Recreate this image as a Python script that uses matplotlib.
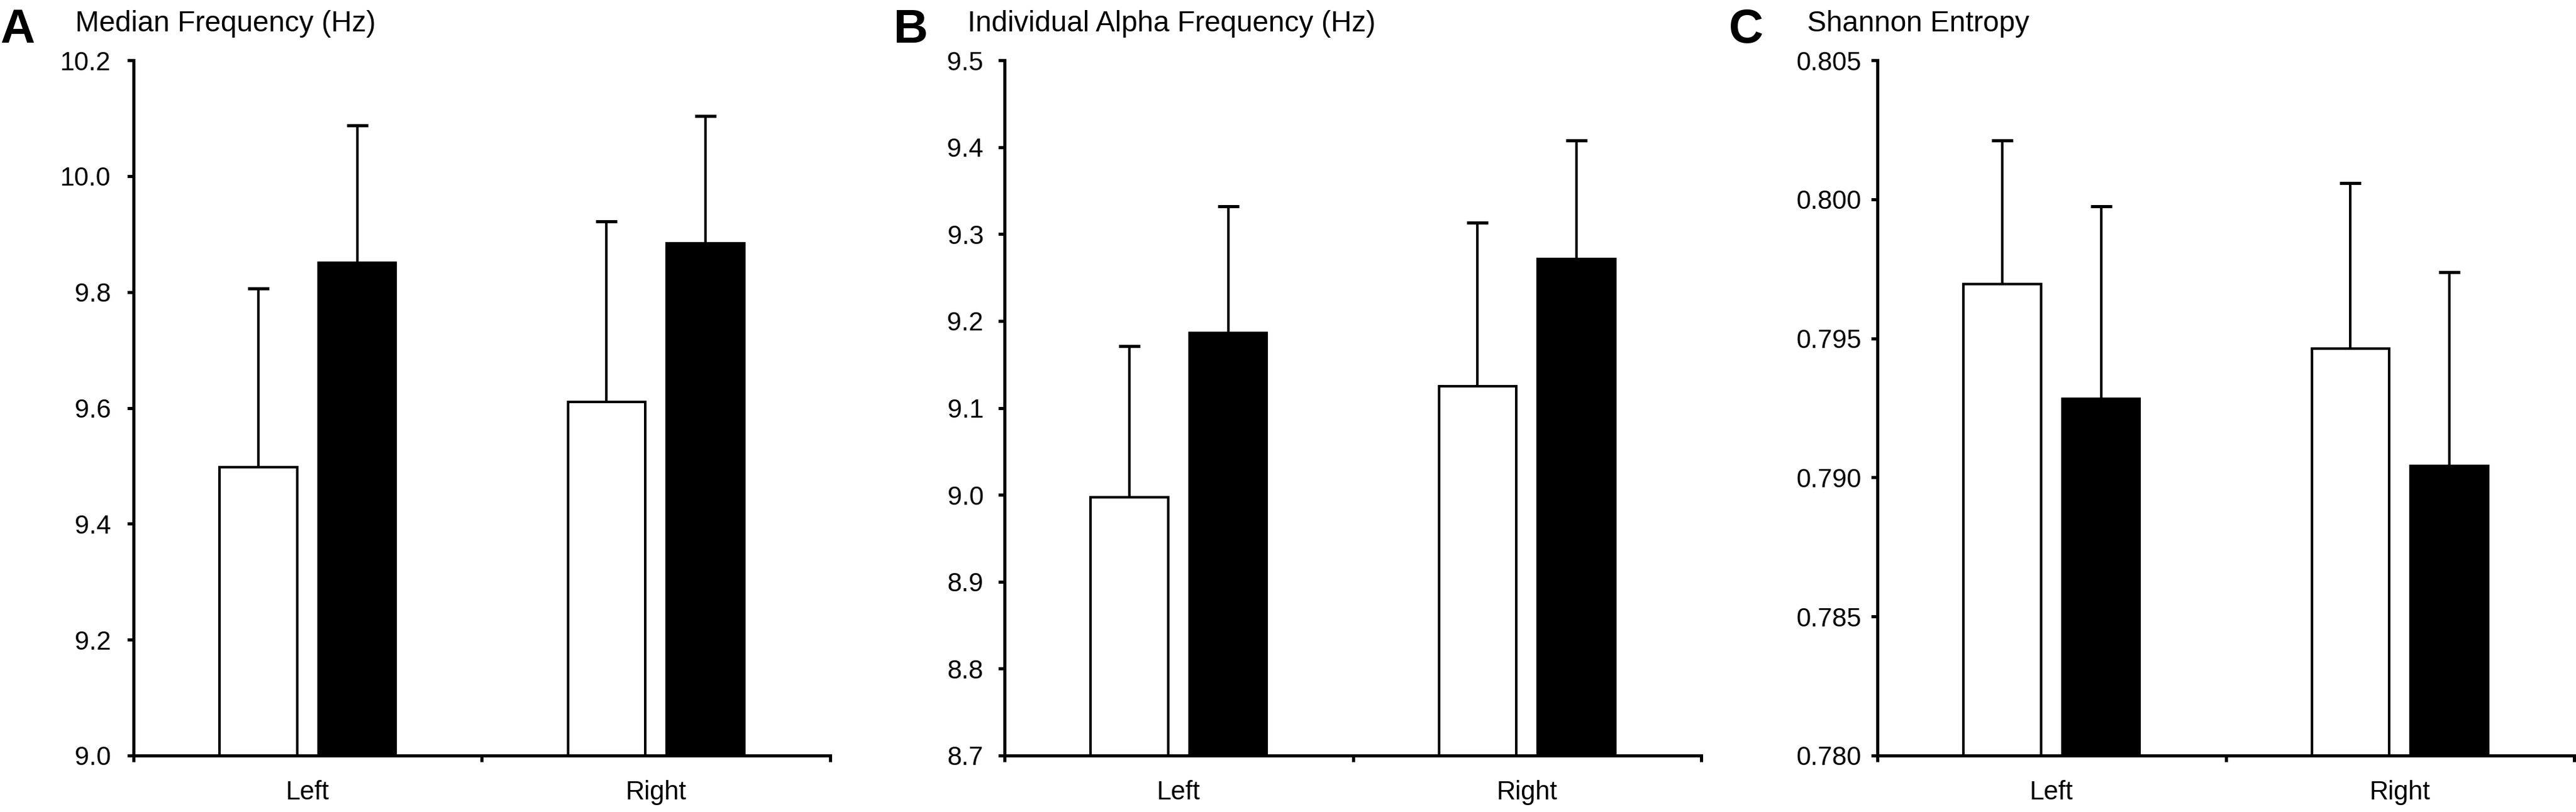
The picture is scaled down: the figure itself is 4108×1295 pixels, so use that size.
import numpy as np
import matplotlib
matplotlib.use('Agg')
import matplotlib.pyplot as plt
from matplotlib import rcParams

rcParams['font.family'] = ['Liberation Sans', 'DejaVu Sans']
rcParams['axes.linewidth'] = 3.6
rcParams['xtick.major.width'] = 3.6
rcParams['ytick.major.width'] = 3.6
rcParams['xtick.major.size'] = 7.2
rcParams['ytick.major.size'] = 7.2
rcParams['xtick.direction'] = 'out'
rcParams['ytick.direction'] = 'out'

# data
categories = ['Left', 'Right']
letters = ['A', 'B', 'C']
titles = ['Median Frequency (Hz)', 'Individual Alpha Frequency (Hz)', 'Shannon Entropy']

median_white = [9.498, 9.610]
median_white_err = [0.308, 0.312]
median_black = [9.851, 9.884]
median_black_err = [0.236, 0.220]

iaf_white = [8.997, 9.125]
iaf_white_err = [0.174, 0.188]
iaf_black = [9.186, 9.271]
iaf_black_err = [0.146, 0.137]

ent_white = [0.79696, 0.79462]
ent_white_err = [0.00515, 0.00596]
ent_black = [0.79283, 0.79042]
ent_black_err = [0.00691, 0.00696]

y_ranges = [(9.0, 10.2), (8.7, 9.5), (0.780, 0.805)]
y_ticks = [np.arange(9.0, 10.21, 0.2), np.arange(8.7, 9.51, 0.1), np.arange(0.780, 0.8051, 0.005)]
y_fmt = ['{:.1f}', '{:.1f}', '{:.3f}']

W, H = 4108, 1295
fig = plt.figure(figsize=(W / 100, H / 100), dpi=100)

axis_left_px = [213, 1602, 2994]
title_px = [120, 1543, 2882]
letter_px = [0, 1425, 2757]
label_pad = [19, 17, 11]
ax_w = 1111
ax_top, ax_bot = 96, 1205

panels = [
    (median_white, median_white_err, median_black, median_black_err),
    (iaf_white, iaf_white_err, iaf_black, iaf_black_err),
    (ent_white, ent_white_err, ent_black, ent_black_err),
]

x = np.arange(len(categories))
width = 0.222
off = 0.142

for i, (w, we, b, be) in enumerate(panels):
    ax = fig.add_axes([axis_left_px[i] / W, 1 - ax_bot / H, ax_w / W, (ax_bot - ax_top) / H])
    ymin, ymax = y_ranges[i]
    w = np.array(w)
    b = np.array(b)

    ax.bar(x - off, w - ymin, width, bottom=ymin, color='white', edgecolor='black',
           linewidth=2.9, zorder=3)
    ax.bar(x + off, b - ymin, width, bottom=ymin, color='black', edgecolor='black',
           linewidth=2.9, zorder=3)
    ax.errorbar(x - off, w, yerr=[np.zeros(2), we], fmt='none', ecolor='black',
                elinewidth=2.9, capsize=12, capthick=3.6, zorder=2)
    ax.errorbar(x + off, b, yerr=[np.zeros(2), be], fmt='none', ecolor='black',
                elinewidth=2.9, capsize=12, capthick=3.6, zorder=2)

    ax.set_xlim(-0.5, 1.5)
    ax.set_ylim(ymin, ymax)
    ax.spines['top'].set_visible(False)
    ax.spines['right'].set_visible(False)

    ax.set_xticks([-0.5, 0.5, 1.5])
    ax.set_xticklabels([])
    ax.set_xticks(x, minor=True)
    ax.set_xticklabels(categories, minor=True, fontsize=30)
    ax.tick_params(axis='x', which='minor', length=0, pad=28)

    ax.set_yticks(y_ticks[i])
    ax.set_yticklabels([y_fmt[i].format(v) for v in y_ticks[i]], fontsize=30)
    ax.tick_params(axis='y', pad=label_pad[i])

    fig.text(title_px[i] / W, 1 - 50 / H, titles[i], fontsize=33, va='baseline', ha='left')
    fig.text(letter_px[i] / W, 1 - 68 / H, letters[i], fontsize=55, fontweight='bold',
             va='baseline', ha='left')

fig.savefig('out.png', dpi=100)
plt.close(fig)
